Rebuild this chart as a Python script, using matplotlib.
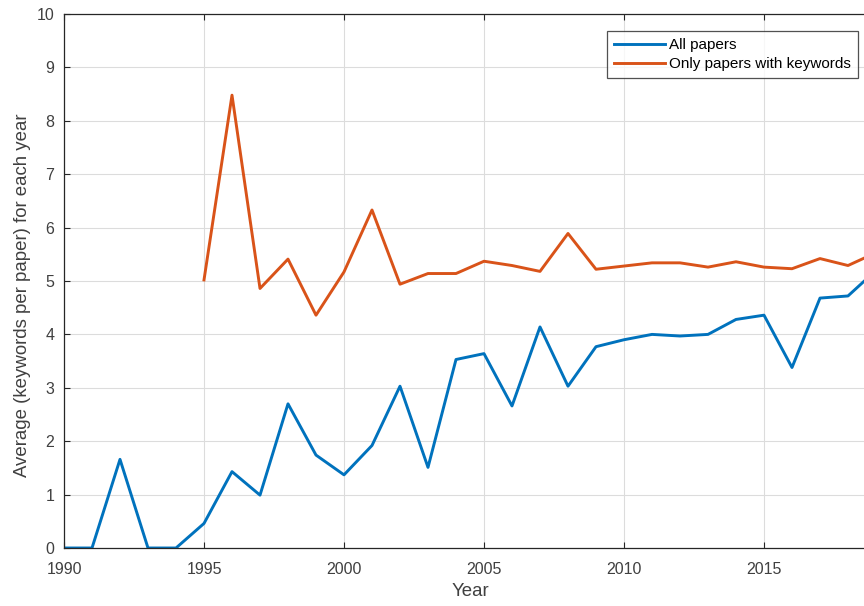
import numpy as np
import matplotlib
matplotlib.use('Agg')
import matplotlib.pyplot as plt

plt.rcParams['font.family'] = ['Liberation Sans', 'DejaVu Sans']

years = list(range(1990, 2020))
all_papers = [0, 0, 1.66, 0, 0, 0.46, 1.43, 0.99, 2.70, 1.74,
              1.37, 1.92, 3.03, 1.51, 3.53, 3.64, 2.66, 4.14, 3.03, 3.77,
              3.90, 4.00, 3.97, 4.00, 4.28, 4.36, 3.38, 4.68, 4.72, 5.20]

kw_years = list(range(1995, 2020))
kw_papers = [5.02, 8.48, 4.86, 5.41, 4.36, 5.17, 6.33, 4.94, 5.14, 5.14,
             5.37, 5.29, 5.18, 5.89, 5.22, 5.28, 5.34, 5.34, 5.26, 5.36,
             5.26, 5.23, 5.42, 5.29, 5.53]

blue = '#0072BD'
orange = '#D95319'
dark = '#262626'
text_c = '#404040'

fig = plt.figure(figsize=(8.64, 6.06), dpi=100)
ax = fig.add_axes([64 / 864, 1 - 548 / 606, 812 / 864, 534 / 606])

ax.plot(years, all_papers, color=blue, linewidth=2.1, label='All papers')
ax.plot(kw_years, kw_papers, color=orange, linewidth=2.1, label='Only papers with keywords')

ax.set_xlim(1990, 2019)
ax.set_ylim(0, 10)
ax.set_xticks([1990, 1995, 2000, 2005, 2010, 2015])
ax.set_yticks(range(0, 11))
ax.grid(True, color='#dcdcdc', linewidth=0.8)
ax.set_axisbelow(True)
ax.tick_params(direction='in', top=True, right=True, colors=dark,
               labelcolor=text_c, labelsize=11.5, length=4, width=0.8)
ax.tick_params(axis='x', pad=10)
ax.tick_params(axis='y', pad=7)
for s in ax.spines.values():
    s.set_color(dark)
    s.set_linewidth(0.9)

ax.set_xlabel('Year', fontsize=13.4, color=text_c)
ax.set_ylabel('Average (keywords per paper) for each year', fontsize=13.4,
              color=text_c)
ax.xaxis.set_label_coords(0.5, -(583 - 548) / 534)
ax.yaxis.set_label_coords(-(64 - 31) / 812, (548 - 295) / 534)

leg = ax.legend(loc='upper right', bbox_to_anchor=(858 / 864, 1 - 31 / 606),
                bbox_transform=fig.transFigure, fontsize=11, frameon=True,
                fancybox=False, edgecolor=dark, handlelength=3.3,
                borderpad=0.45, labelspacing=0.35, handletextpad=0.3,
                borderaxespad=0)
leg.get_frame().set_linewidth(0.9)

fig.savefig('out.png', dpi=100)
